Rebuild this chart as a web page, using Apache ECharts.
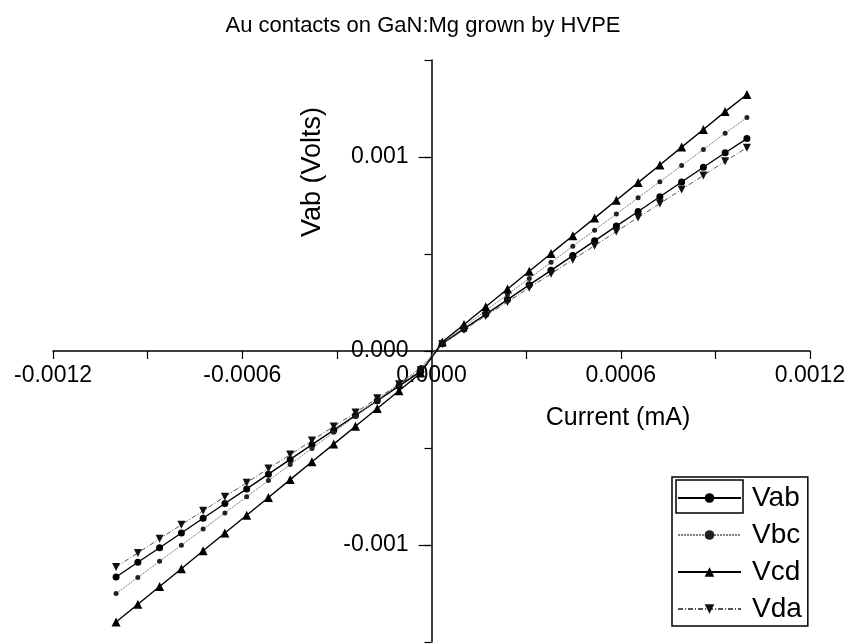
<!DOCTYPE html>
<html>
<head>
<meta charset="utf-8">
<title>Au contacts on GaN:Mg grown by HVPE</title>
<script src="https://cdn.jsdelivr.net/npm/echarts@6/dist/echarts.min.js"></script>
<style>
  html, body { margin: 0; padding: 0; background: #fff; }
  #chart { width: 846px; height: 644px; }
</style>
</head>
<body>
<div id="chart"></div>
<script>
// Sweep current (A axis labelled mA) and measured voltages for each contact pair
const currentA = [
  -0.001000, -0.000931, -0.000862, -0.000793, -0.000724, -0.000655,
  -0.000586, -0.000517, -0.000448, -0.000379, -0.000310, -0.000241,
  -0.000172, -0.000103, -0.000034,  0.000034,  0.000103,  0.000172,
   0.000241,  0.000310,  0.000379,  0.000448,  0.000517,  0.000586,
   0.000655,  0.000724,  0.000793,  0.000862,  0.000931,  0.001000
];
const vab = [
  -0.001165, -0.001089, -0.001014, -0.000938, -0.000862, -0.000786,
  -0.000711, -0.000635, -0.000559, -0.000483, -0.000408, -0.000332,
  -0.000256, -0.000181, -0.000105,  0.000038,  0.000114,  0.000189,
   0.000265,  0.000341,  0.000416,  0.000492,  0.000568,  0.000644,
   0.000719,  0.000795,  0.000871,  0.000947,  0.001022,  0.001095
];
const vbc = [
  -0.001250, -0.001167, -0.001084, -0.001001, -0.000918, -0.000835,
  -0.000751, -0.000668, -0.000585, -0.000502, -0.000419, -0.000336,
  -0.000253, -0.000170, -0.000087,  0.000042,  0.000125,  0.000208,
   0.000291,  0.000374,  0.000457,  0.000540,  0.000623,  0.000706,
   0.000790,  0.000873,  0.000956,  0.001039,  0.001122,  0.001203
];
const vcd = [
  -0.001397, -0.001305, -0.001214, -0.001122, -0.001030, -0.000938,
  -0.000847, -0.000755, -0.000663, -0.000571, -0.000480, -0.000388,
  -0.000296, -0.000205, -0.000113,  0.000046,  0.000137,  0.000228,
   0.000320,  0.000411,  0.000503,  0.000594,  0.000685,  0.000777,
   0.000868,  0.000959,  0.001051,  0.001142,  0.001234,  0.001322
];
const vda = [
  -0.001113, -0.001041, -0.000968, -0.000896, -0.000823, -0.000751,
  -0.000679, -0.000606, -0.000534, -0.000461, -0.000389, -0.000317,
  -0.000244, -0.000172, -0.000099,  0.000036,  0.000109,  0.000181,
   0.000253,  0.000326,  0.000398,  0.000471,  0.000543,  0.000616,
   0.000688,  0.000760,  0.000833,  0.000905,  0.000978,  0.001048
];
const seriesNames = ['Vab', 'Vbc', 'Vcd', 'Vda'];

const FONT = "'Liberation Sans', Arial, sans-serif";
const pairs = ys => currentA.map((x, i) => [x, ys[i]]);

// Plot box: the axes cross at the origin, in the middle of the box
const GRID = { left: 53, right: 36, top: 60, bottom: 2 };
const W = 846, H = 644;
const halfW = (W - GRID.left - GRID.right) / 2;
const halfH = (H - GRID.top - GRID.bottom) / 2;

const chart = echarts.init(document.getElementById('chart'), null, { renderer: 'canvas' });

chart.setOption({
  backgroundColor: '#ffffff',
  animation: false,
  title: {
    text: 'Au contacts on GaN:Mg grown by HVPE',
    left: 'center',
    top: 10,
    textStyle: { fontFamily: FONT, fontSize: 22, fontWeight: 'normal', color: '#000' }
  },
  grid: Object.assign({ containLabel: false, outerBoundsMode: 'none' }, GRID),
  legend: {
    orient: 'vertical',
    left: 672,
    top: 477,
    padding: [7, 6, 3, 5],
    itemWidth: 63,
    itemHeight: 12,
    itemGap: 9,
    borderColor: '#000',
    borderWidth: 1.5,
    data: seriesNames,
    textStyle: { fontFamily: FONT, fontSize: 28, color: '#000', padding: [0, 0, 0, 6], lineHeight: 26 }
  },
  xAxis: {
    type: 'value',
    position: 'bottom',
    offset: -halfH,
    min: -0.0012,
    max: 0.0012,
    interval: 0.0003,
    axisLine: { onZero: false, lineStyle: { color: '#000', width: 1.5 } },
    axisTick: { show: true, length: 8, lineStyle: { color: '#000', width: 1.2 } },
    splitLine: { show: false },
    axisLabel: {
      showMinLabel: true,
      showMaxLabel: true,
      hideOverlap: false,
      margin: 13,
      fontFamily: FONT,
      fontSize: 23,
      color: '#000',
      formatter: v => {
        const k = Math.round(v / 0.0003);
        if (k % 2 !== 0) return '';
        return Math.abs(v) < 1e-9 ? '0.0000' : v.toFixed(4);
      }
    }
  },
  yAxis: [
    {
      type: 'value',
      position: 'left',
      offset: -halfW,
      min: -0.0015,
      max: 0.0015,
      interval: 0.0005,
      axisLine: { show: true, onZero: false, lineStyle: { color: '#000', width: 1.5 } },
      axisTick: { show: true, length: 7, lineStyle: { color: '#000', width: 1.2 } },
      splitLine: { show: false },
      axisLabel: {
        showMinLabel: true,
        showMaxLabel: true,
        hideOverlap: false,
        margin: 23,
        fontFamily: FONT,
        fontSize: 23,
        color: '#000',
        formatter: v => {
          const k = Math.round(v / 0.0005);
          if (k % 2 !== 0) return '';
          return Math.abs(v) < 1e-9 ? '0.000' : v.toFixed(3);
        }
      }
    },
    {
      // longer ticks at the labelled values
      type: 'value',
      position: 'left',
      offset: -halfW,
      min: -0.0015,
      max: 0.0015,
      axisLine: { show: false, onZero: false },
      axisTick: { show: true, length: 13, customValues: [-0.001, 0.001], lineStyle: { color: '#000', width: 1.2 } },
      axisLabel: { show: false },
      splitLine: { show: false }
    }
  ],
  series: [
    {
      name: 'Vab', type: 'line', data: pairs(vab),
      symbol: 'circle', symbolSize: 7,
      itemStyle: { color: '#000' },
      lineStyle: { color: '#000', width: 1.4 }
    },
    {
      name: 'Vbc', type: 'line', data: pairs(vbc),
      symbol: 'circle', symbolSize: 5,
      itemStyle: { color: '#222' },
      lineStyle: { color: '#808080', width: 1, type: [2, 1] }
    },
    {
      name: 'Vcd', type: 'line', data: pairs(vcd),
      symbol: 'triangle', symbolSize: 9,
      itemStyle: { color: '#000' },
      lineStyle: { color: '#000', width: 1.4 }
    },
    {
      name: 'Vda', type: 'line', data: pairs(vda),
      symbol: 'triangle', symbolSize: 8, symbolRotate: 180,
      itemStyle: { color: '#111' },
      lineStyle: { color: '#555', width: 1, type: [5, 2, 1, 2] }
    }
  ],
  graphic: [
    {
      type: 'text',
      x: 618, y: 418,
      style: {
        text: 'Current (mA)', fontFamily: FONT, fontSize: 25, fill: '#000',
        textAlign: 'center', textVerticalAlign: 'middle'
      }
    },
    {
      type: 'text',
      x: 313, y: 172,
      rotation: Math.PI / 2,
      style: {
        text: 'Vab (Volts)', fontFamily: FONT, fontSize: 27, fill: '#000',
        textAlign: 'center', textVerticalAlign: 'middle'
      }
    },
    {
      type: 'rect',
      shape: { x: 676, y: 480, width: 67, height: 33 },
      style: { fill: 'none', stroke: '#000', lineWidth: 1.5 }
    }
  ]
});
</script>
</body>
</html>
